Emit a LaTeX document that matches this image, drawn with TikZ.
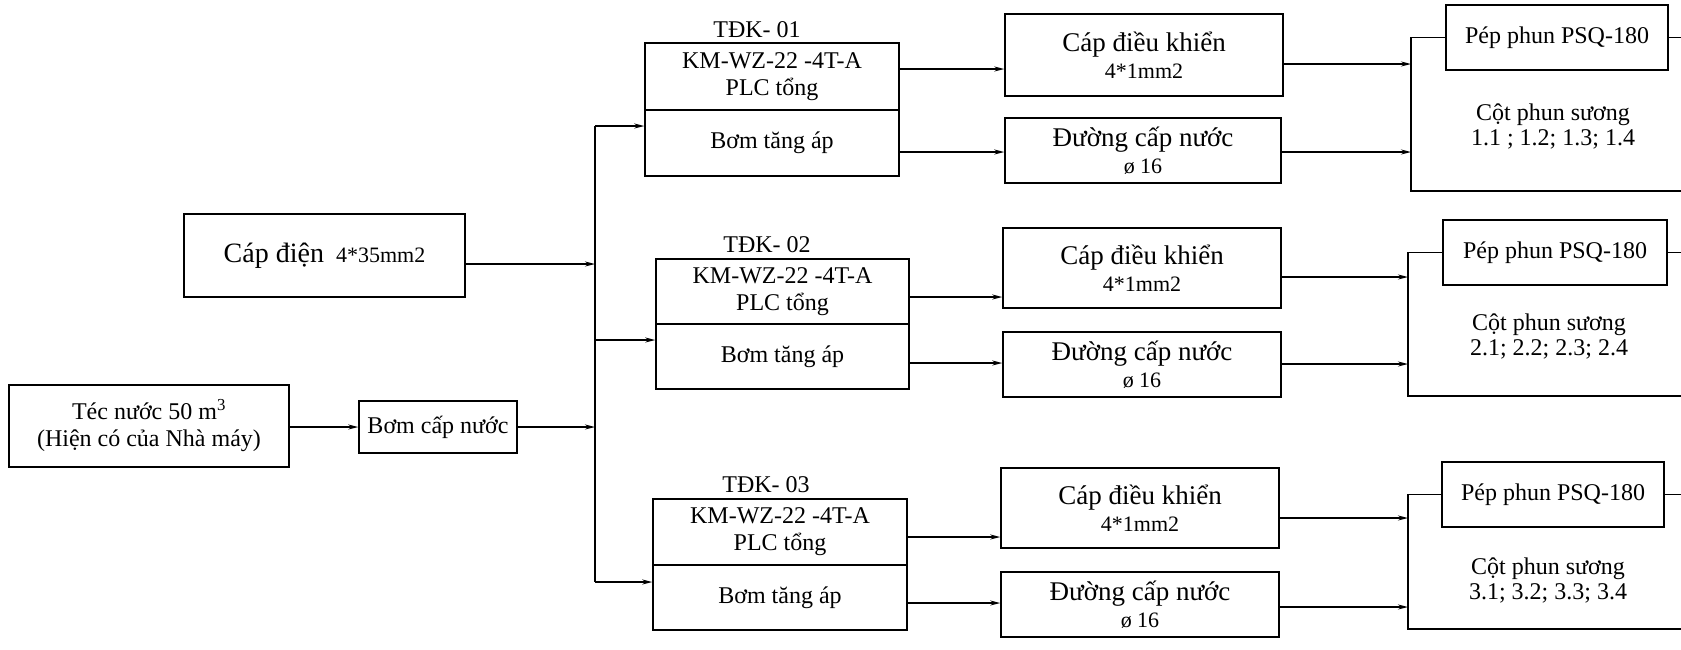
\documentclass[tikz,border=0pt]{standalone}
\usepackage{fontspec}
\setmainfont{Liberation Serif}
\usetikzlibrary{arrows.meta}
\begin{document}
\begin{tikzpicture}[x=1pt,y=-1pt,
  ln/.style={line width=1.5pt},
  arr/.style={line width=1.5pt,-{Stealth[length=10pt,width=5pt]}},
  box/.style={draw,line width=1.5pt,inner sep=0pt,align=center,font=\fontsize{24}{27}\selectfont},
  lbl/.style={inner sep=0pt,align=center,font=\fontsize{24}{25}\selectfont},
  big/.style={font=\fontsize{27}{29}\selectfont}]
\useasboundingbox (0,0) rectangle (1681,649);
% left part
\node[box,minimum width=281pt,minimum height=83pt] (capd) at (324.5,255.5)
  {{\fontsize{28}{30}\selectfont Cáp điện}\hspace{12pt}{\fontsize{22}{24}\selectfont 4*35mm2}};
\node[box,minimum width=280pt,minimum height=82pt] (tec) at (149,426)
  {Téc nước 50 m\textsuperscript{3}\\(Hiện có của Nhà máy)};
\node[box,minimum width=158pt,minimum height=52pt] (bom) at (438,427) {Bơm cấp nước};
% bus
\coordinate (bt) at (595,126);
\coordinate (bb) at (595,582);
\coordinate (bc) at (595,264);
\coordinate (bw) at (595,427);
\coordinate (bm) at (595,340);
% TDK boxes
\node[lbl] (l1) at (757,30) {TĐK- 01};
\node[box,minimum width=254pt,minimum height=67pt] (t1t) at (772,76.5) {KM-WZ-22 -4T-A\\PLC tổng};
\node[box,minimum width=254pt,minimum height=66pt] (t1b) at (772,143) {Bơm tăng áp};
\node[lbl] (l2) at (767,245) {TĐK- 02};
\node[box,minimum width=253pt,minimum height=65pt] (t2t) at (782.5,291.5) {KM-WZ-22 -4T-A\\PLC tổng};
\node[box,minimum width=253pt,minimum height=65pt] (t2b) at (782.5,356.5) {Bơm tăng áp};
\node[lbl] (l3) at (766,485) {TĐK- 03};
\node[box,minimum width=254pt,minimum height=66pt] (t3t) at (780,532) {KM-WZ-22 -4T-A\\PLC tổng};
\node[box,minimum width=254pt,minimum height=65pt] (t3b) at (780,597.5) {Bơm tăng áp};
% cable / water boxes
\node[box,minimum width=278pt,minimum height=82pt] (c1) at (1144,55)
  {{\fontsize{27}{29}\selectfont Cáp điều khiển}\\{\fontsize{22}{24}\selectfont 4*1mm2}};
\node[box,minimum width=276pt,minimum height=65pt] (d1) at (1143,150.5)
  {{\fontsize{27}{29}\selectfont Đường cấp nước}\\{\fontsize{22}{24}\selectfont ø 16}};
\node[box,minimum width=278pt,minimum height=80pt] (c2) at (1142,268)
  {{\fontsize{27}{29}\selectfont Cáp điều khiển}\\{\fontsize{22}{24}\selectfont 4*1mm2}};
\node[box,minimum width=278pt,minimum height=65pt] (d2) at (1142,364.5)
  {{\fontsize{27}{29}\selectfont Đường cấp nước}\\{\fontsize{22}{24}\selectfont ø 16}};
\node[box,minimum width=278pt,minimum height=80pt] (c3) at (1140,508)
  {{\fontsize{27}{29}\selectfont Cáp điều khiển}\\{\fontsize{22}{24}\selectfont 4*1mm2}};
\node[box,minimum width=278pt,minimum height=65pt] (d3) at (1140,604.5)
  {{\fontsize{27}{29}\selectfont Đường cấp nước}\\{\fontsize{22}{24}\selectfont ø 16}};
% spray nozzles
\node[box,minimum width=222pt,minimum height=65pt] (p1) at (1557,37.5) {Pép phun PSQ-180};
\node[box,minimum width=224pt,minimum height=65pt] (p2) at (1555,252.5) {Pép phun PSQ-180};
\node[box,minimum width=222pt,minimum height=65pt] (p3) at (1553,494.5) {Pép phun PSQ-180};
\node[lbl] (s1) at (1553,126) {Cột phun sương\\1.1 ; 1.2; 1.3; 1.4};
\node[lbl] (s2) at (1549,336) {Cột phun sương\\2.1; 2.2; 2.3; 2.4};
\node[lbl] (s3) at (1548,580) {Cột phun sương\\3.1; 3.2; 3.3; 3.4};
% bracket corners
\coordinate (r1t) at (1411,37.5); \coordinate (r1b) at (1411,191); \coordinate (e1b) at (1681,191);
\coordinate (r2t) at (1408,252.5); \coordinate (r2b) at (1408,396); \coordinate (e2b) at (1681,396);
\coordinate (r3t) at (1408,494.5); \coordinate (r3b) at (1408,629); \coordinate (e3b) at (1681,629);
\coordinate (edge) at (1681,0);
% arrow heights
\coordinate (y1a) at (0,69);  \coordinate (y1b) at (0,152); \coordinate (y1c) at (0,64);  \coordinate (y1d) at (0,152);
\coordinate (y2a) at (0,297); \coordinate (y2b) at (0,363); \coordinate (y2c) at (0,277); \coordinate (y2d) at (0,364);
\coordinate (y3a) at (0,537); \coordinate (y3b) at (0,603); \coordinate (y3c) at (0,518); \coordinate (y3d) at (0,607);
% connectors left
\draw[arr] (capd.east |- bc) -- (bc);
\draw[arr] (tec.east |- bom) -- (bom.west);
\draw[arr] (bom.east) -- (bw);
\draw[ln] (bt) -- (bb);
\draw[arr] (bt) -- (t1b.west |- bt);
\draw[arr] (bm) -- (t2b.west |- bm);
\draw[arr] (bb) -- (t3b.west |- bb);
% TDK -> cables
\draw[arr] (t1t.east |- y1a) -- (c1.west |- y1a);
\draw[arr] (t1b.east |- y1b) -- (d1.west |- y1b);
\draw[arr] (t2t.east |- y2a) -- (c2.west |- y2a);
\draw[arr] (t2b.east |- y2b) -- (d2.west |- y2b);
\draw[arr] (t3t.east |- y3a) -- (c3.west |- y3a);
\draw[arr] (t3b.east |- y3b) -- (d3.west |- y3b);
% cables -> brackets
\draw[arr] (c1.east |- y1c) -- (r1t |- y1c);
\draw[arr] (d1.east |- y1d) -- (r1t |- y1d);
\draw[arr] (c2.east |- y2c) -- (r2t |- y2c);
\draw[arr] (d2.east |- y2d) -- (r2t |- y2d);
\draw[arr] (c3.east |- y3c) -- (r3t |- y3c);
\draw[arr] (d3.east |- y3d) -- (r3t |- y3d);
% brackets
\draw[ln] (p1.west) -- (r1t) -- (r1b) -- (e1b);
\draw[ln] (p1.east) -- (p1.east -| edge);
\draw[ln] (p2.west) -- (r2t) -- (r2b) -- (e2b);
\draw[ln] (p2.east) -- (p2.east -| edge);
\draw[ln] (p3.west) -- (r3t) -- (r3b) -- (e3b);
\draw[ln] (p3.east) -- (p3.east -| edge);
\end{tikzpicture}
\end{document}
